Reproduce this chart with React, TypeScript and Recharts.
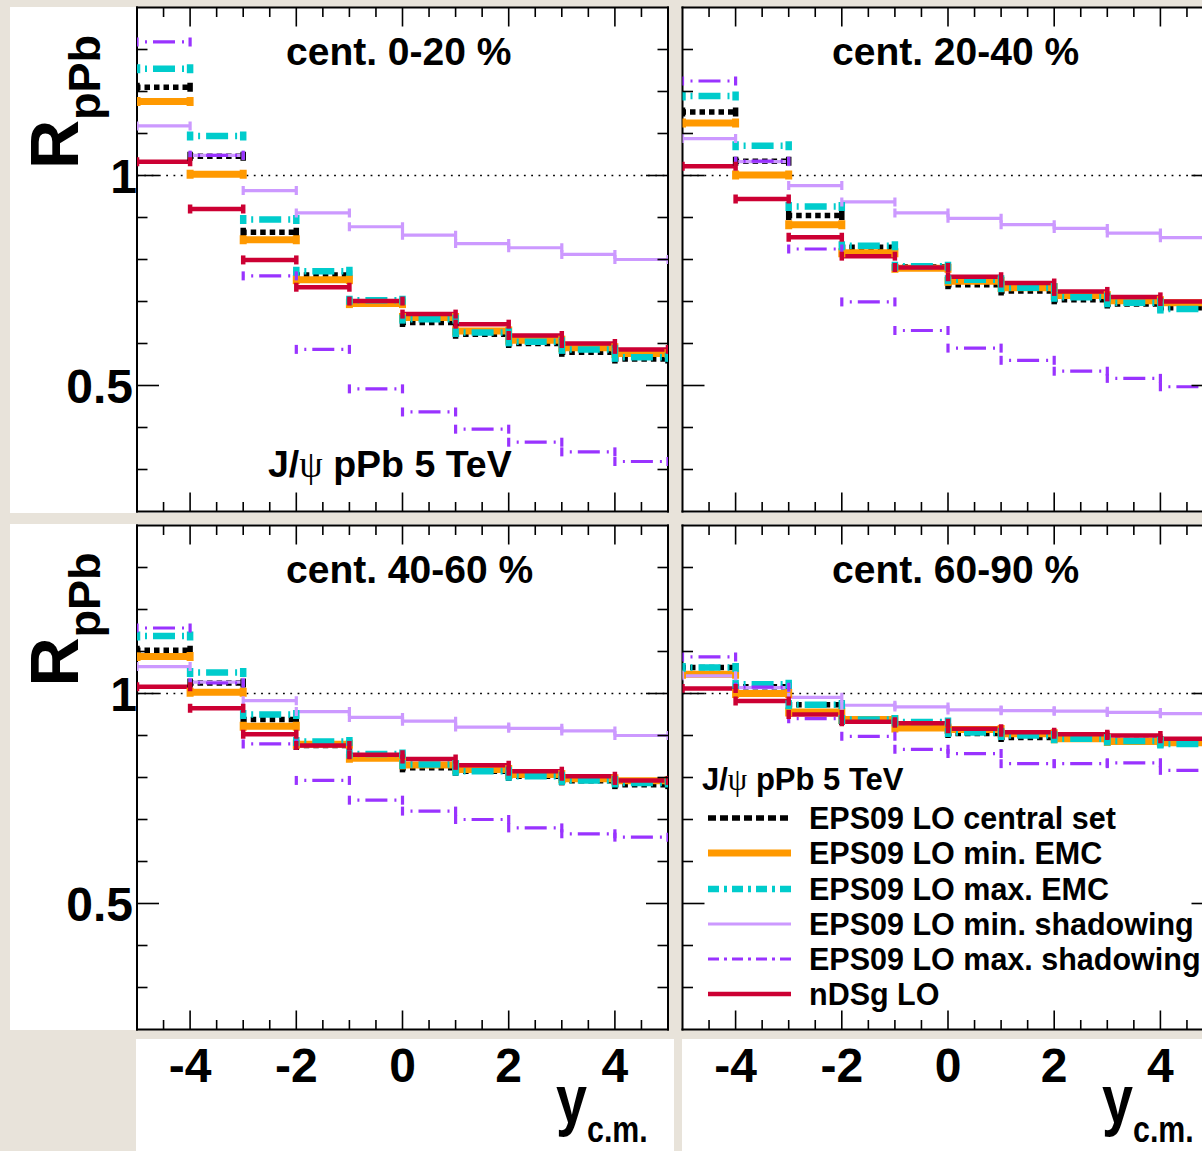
import React from 'react';
import { LineChart, Line, XAxis, YAxis, ReferenceLine } from 'recharts';

const FONT = '"Liberation Sans", Arial, Helvetica, sans-serif';
const SERIF = '"Liberation Serif", "DejaVu Serif", serif';

// Rapidity bins in y_c.m.
const binEdges = [-5, -4, -3, -2, -1, 0, 1, 2, 3, 4, 5];
const xTicks = [-4.5, -4, -3.5, -3, -2.5, -2, -1.5, -1, -0.5, 0, 0.5, 1, 1.5, 2, 2.5, 3, 3.5, 4, 4.5];
const xTickLabels = [-4, -2, 0, 2, 4];
const yTicks = [0.3, 0.4, 0.5, 0.6, 0.7, 0.8, 0.9, 1, 1.1, 1.2, 1.3];
const yTickLabels = [0.5, 1];

const centralityLabels = ['cent. 0-20 %', 'cent. 20-40 %', 'cent. 40-60 %', 'cent. 60-90 %'];
const modelNames = [
  'EPS09 LO central set',
  'EPS09 LO min. EMC',
  'EPS09 LO max. EMC',
  'EPS09 LO min. shadowing',
  'EPS09 LO max. shadowing',
  'nDSg LO',
];

// R_pPb per rapidity bin, centrality 0-20 %
const central0020 = [1.21, 1.046, 0.865, 0.763, 0.699, 0.65, 0.622, 0.6, 0.579, 0.563];
const minEmc0020 = [1.176, 1.003, 0.847, 0.752, 0.695, 0.662, 0.63, 0.608, 0.59, 0.576];
const maxEmc0020 = [1.254, 1.094, 0.895, 0.772, 0.703, 0.658, 0.626, 0.604, 0.586, 0.567];
const minShad0020 = [1.118, 1.048, 0.964, 0.911, 0.878, 0.858, 0.838, 0.828, 0.812, 0.8];
const maxShad0020 = [1.318, 1.048, 0.761, 0.586, 0.492, 0.437, 0.396, 0.365, 0.342, 0.319];
const ndsg0020 = [1.033, 0.92, 0.799, 0.734, 0.701, 0.67, 0.646, 0.619, 0.6, 0.586];

// centrality 20-40 %
const central2040 = [1.151, 1.034, 0.905, 0.829, 0.782, 0.74, 0.725, 0.704, 0.694, 0.685];
const minEmc2040 = [1.125, 1.001, 0.883, 0.816, 0.779, 0.748, 0.733, 0.714, 0.702, 0.697];
const maxEmc2040 = [1.189, 1.071, 0.926, 0.833, 0.784, 0.752, 0.733, 0.71, 0.697, 0.682];
const minShad2040 = [1.088, 1.033, 0.976, 0.937, 0.911, 0.898, 0.883, 0.874, 0.863, 0.852];
const maxShad2040 = [1.225, 1.034, 0.825, 0.699, 0.631, 0.589, 0.56, 0.534, 0.517, 0.497];
const ndsg2040 = [1.022, 0.944, 0.853, 0.808, 0.781, 0.759, 0.744, 0.724, 0.711, 0.7];

// centrality 40-60 %
const central4060 = [1.103, 1.025, 0.938, 0.876, 0.851, 0.823, 0.815, 0.803, 0.792, 0.783];
const minEmc4060 = [1.088, 1.003, 0.922, 0.879, 0.846, 0.83, 0.819, 0.807, 0.797, 0.792];
const maxEmc4060 = [1.137, 1.05, 0.95, 0.886, 0.856, 0.831, 0.815, 0.803, 0.793, 0.787];
const minShad4060 = [1.064, 1.027, 0.983, 0.957, 0.943, 0.934, 0.92, 0.917, 0.911, 0.9];
const maxShad4060 = [1.156, 1.025, 0.88, 0.793, 0.746, 0.72, 0.7, 0.68, 0.666, 0.658];
const ndsg4060 = [1.016, 0.965, 0.903, 0.876, 0.854, 0.844, 0.829, 0.815, 0.803, 0.793];

// centrality 60-90 %
const central6090 = [1.062, 1.016, 0.973, 0.936, 0.924, 0.905, 0.895, 0.894, 0.888, 0.882];
const minEmc6090 = [1.046, 1.0, 0.956, 0.938, 0.918, 0.914, 0.904, 0.892, 0.886, 0.883];
const maxEmc6090 = [1.062, 1.022, 0.973, 0.938, 0.932, 0.907, 0.9, 0.892, 0.887, 0.88];
const minShad6090 = [1.042, 1.014, 0.991, 0.972, 0.968, 0.961, 0.959, 0.958, 0.955, 0.952];
const maxShad6090 = [1.087, 1.015, 0.94, 0.898, 0.867, 0.857, 0.833, 0.833, 0.835, 0.817];
const ndsg6090 = [1.012, 0.982, 0.95, 0.933, 0.929, 0.916, 0.908, 0.903, 0.9, 0.892];

const panelSeries = [
  [central0020, minEmc0020, maxEmc0020, minShad0020, maxShad0020, ndsg0020],
  [central2040, minEmc2040, maxEmc2040, minShad2040, maxShad2040, ndsg2040],
  [central4060, minEmc4060, maxEmc4060, minShad4060, maxShad4060, ndsg4060],
  [central6090, minEmc6090, maxEmc6090, minShad6090, maxShad6090, ndsg6090],
];

// line styles, in legend order (drawn in this order, last on top)
const modelStyles = [
  { color: '#000000', width: 5.5, dash: '5.5 4', offset: 2, legendDash: '8 4' },
  { color: '#ff9900', width: 7, dash: undefined, offset: 0, legendDash: undefined },
  { color: '#00cccc', width: 6.5, dash: '22 7 2 6', offset: 21, legendDash: '11 5 3 5' },
  { color: '#cc99ff', width: 3.2, dash: undefined, offset: 0, legendDash: undefined },
  { color: '#9933ff', width: 3.2, dash: '22 7 2 6', offset: 21, legendDash: '11 5 3 5' },
  { color: '#cc0033', width: 4.5, dash: undefined, offset: 0, legendDash: undefined },
];

// panel geometry: chart box and margins (axes take 1px each)
const panelBoxes = [
  { left: 0, top: 0, width: 680, height: 515, margin: { left: 136, top: 6.5, right: 11, bottom: 2.5 }, yLabels: true, xLabels: false },
  { left: 670, top: 0, width: 560, height: 515, margin: { left: 11.5, top: 6.5, right: 15.5, bottom: 2.5 }, yLabels: false, xLabels: false },
  { left: 0, top: 517.5, width: 680, height: 633.5, margin: { left: 136, top: 6.5, right: 11, bottom: 121 }, yLabels: true, xLabels: true },
  { left: 670, top: 517.5, width: 560, height: 633.5, margin: { left: 11.5, top: 6.5, right: 15.5, bottom: 121 }, yLabels: false, xLabels: true },
];

type Pt = { x: number; y: number | null };

// one horizontal segment per bin, broken between bins
function binSegments(values: number[]): Pt[] {
  const pts: Pt[] = [];
  values.forEach((v, i) => {
    pts.push({ x: binEdges[i], y: v });
    pts.push({ x: binEdges[i + 1], y: v });
    pts.push({ x: binEdges[i + 1], y: null });
  });
  return pts;
}

const isMajorX = (v: number) => Number.isInteger(v) && v % 2 === 0;
const isMajorY = (v: number) => v === 0.5 || v === 1;

const TICK_W = 1.6;

function BottomTick(props: any) {
  const { x, y, payload, showLabel } = props;
  const v = payload.value;
  const major = isMajorX(v);
  return (
    <g>
      <line x1={x} x2={x} y1={y} y2={y - (major ? 19 : 9.5)} stroke="#000" strokeWidth={TICK_W} />
      {showLabel && major && xTickLabels.includes(v) ? (
        <text x={x} y={y + 52} textAnchor="middle" fontFamily={FONT} fontWeight="bold" fontSize={48} fill="#000">
          {String(v)}
        </text>
      ) : null}
    </g>
  );
}

function TopTick(props: any) {
  const { x, y, payload } = props;
  const major = isMajorX(payload.value);
  return <line x1={x} x2={x} y1={y} y2={y + (major ? 19 : 9.5)} stroke="#000" strokeWidth={TICK_W} />;
}

function LeftTick(props: any) {
  const { x, y, payload, showLabel } = props;
  const v = payload.value;
  const major = isMajorY(v);
  return (
    <g>
      <line x1={x} x2={x + (major ? 22 : 10.5)} y1={y} y2={y} stroke="#000" strokeWidth={TICK_W} />
      {showLabel && yTickLabels.includes(v) ? (
        <text x={x - (v === 1 ? 0 : 4)} y={y + 17} textAnchor="end" fontFamily={FONT} fontWeight="bold" fontSize={48} fill="#000">
          {String(v)}
        </text>
      ) : null}
    </g>
  );
}

function RightTick(props: any) {
  const { x, y, payload } = props;
  const major = isMajorY(payload.value);
  return <line x1={x} x2={x - (major ? 22 : 10.5)} y1={y} y2={y} stroke="#000" strokeWidth={TICK_W} />;
}

function makeCap(color: string, width: number) {
  return (p: any) => {
    const k = `cap-${p.index}`;
    if (p.cx == null || p.cy == null || p.payload == null || p.payload.y == null || Number.isNaN(p.cy)) {
      return <g key={k} />;
    }
    return <line key={k} x1={p.cx} x2={p.cx} y1={p.cy - 4.5} y2={p.cy + 4.5} stroke={color} strokeWidth={width} />;
  };
}

const frameLine = { stroke: '#000', strokeWidth: 2, strokeLinecap: 'square' as const };

function Panel({ index }: { index: number }) {
  const box = panelBoxes[index];
  const series = panelSeries[index];
  return (
    <div style={{ position: 'absolute', left: box.left, top: box.top, width: box.width, height: box.height }}>
      <LineChart width={box.width} height={box.height} margin={box.margin}>
        <XAxis
          xAxisId="b"
          orientation="bottom"
          type="number"
          dataKey="x"
          domain={[-5, 5]}
          allowDataOverflow
          ticks={xTicks}
          interval={0}
          height={1}
          tickSize={0}
          tickMargin={0}
          tickLine={false}
          axisLine={frameLine}
          tick={(p: any) => <BottomTick {...p} showLabel={box.xLabels} />}
        />
        <XAxis
          xAxisId="t"
          orientation="top"
          type="number"
          dataKey="x"
          domain={[-5, 5]}
          allowDataOverflow
          ticks={xTicks}
          interval={0}
          height={1}
          tickSize={0}
          tickMargin={0}
          tickLine={false}
          axisLine={frameLine}
          tick={(p: any) => <TopTick {...p} />}
        />
        <YAxis
          yAxisId="l"
          orientation="left"
          type="number"
          domain={[0.2, 1.4]}
          allowDataOverflow
          ticks={yTicks}
          interval={0}
          width={1}
          tickSize={0}
          tickMargin={0}
          tickLine={false}
          axisLine={frameLine}
          tick={(p: any) => <LeftTick {...p} showLabel={box.yLabels} />}
        />
        <YAxis
          yAxisId="r"
          orientation="right"
          type="number"
          domain={[0.2, 1.4]}
          allowDataOverflow
          ticks={yTicks}
          interval={0}
          width={1}
          tickSize={0}
          tickMargin={0}
          tickLine={false}
          axisLine={frameLine}
          tick={(p: any) => <RightTick {...p} />}
        />
        <ReferenceLine
          y={1}
          xAxisId="b"
          yAxisId="l"
          stroke="#000"
          strokeWidth={1.6}
          strokeDasharray="1.8 5.5"
        />
        {series.map((vals, si) => {
          const st = modelStyles[si];
          return (
            <Line
              key={modelNames[si]}
              name={modelNames[si]}
              data={binSegments(vals)}
              dataKey="y"
              xAxisId="b"
              yAxisId="l"
              type="linear"
              stroke={st.color}
              strokeWidth={st.width}
              strokeDasharray={st.dash}
              strokeDashoffset={st.offset}
              connectNulls={false}
              dot={makeCap(st.color, st.width)}
              activeDot={false}
              isAnimationActive={false}
            />
          );
        })}
      </LineChart>
    </div>
  );
}

const BEIGE = '#e8e3da';

const whiteBoxes = [
  { left: 10, top: 6.5, width: 659, height: 506 },
  { left: 681.5, top: 6.5, width: 520.5, height: 506 },
  { left: 10, top: 524, width: 659, height: 506 },
  { left: 681.5, top: 524, width: 520.5, height: 506 },
  { left: 136, top: 1039, width: 538, height: 112 },
  { left: 682, top: 1039, width: 520, height: 112 },
];

const titlePos = [
  { x: 286, y: 65 },
  { x: 832, y: 65 },
  { x: 286, y: 583 },
  { x: 832, y: 583 },
];

const legendRows = [818, 853, 889, 924, 959, 994];

function Overlay() {
  const bold = { fontFamily: FONT, fontWeight: 'bold' as const, fill: '#000' };
  return (
    <svg
      width={1202}
      height={1151}
      style={{ position: 'absolute', left: 0, top: 0, pointerEvents: 'none' }}
    >
      {centralityLabels.map((t, i) => (
        <text key={t} x={titlePos[i].x} y={titlePos[i].y} fontSize={39} {...bold}>
          {t}
        </text>
      ))}

      {/* y-axis titles */}
      {[169, 686.5].map((yy) => (
        <text key={yy} transform={`translate(78,${yy}) rotate(-90)`} {...bold}>
          <tspan fontSize={68}>R</tspan>
          <tspan fontSize={45} dy={22}>pPb</tspan>
        </text>
      ))}

      {/* x-axis titles (narrow lettering) */}
      {[556, 1102].map((xx) => (
        <text key={xx} transform={`translate(${xx},1123) scale(0.82,1)`} {...bold}>
          <tspan fontSize={68}>y</tspan>
          <tspan fontSize={37} dy={19}>c.m.</tspan>
        </text>
      ))}

      {/* system label, first panel */}
      <text x={268} y={477} fontSize={37.5} {...bold}>
        J/<tspan fontFamily={SERIF} fontWeight="normal">ψ</tspan> pPb 5 TeV
      </text>

      {/* legend in last panel */}
      <text x={702} y={790} fontSize={31} {...bold}>
        J/<tspan fontFamily={SERIF} fontWeight="normal">ψ</tspan> pPb 5 TeV
      </text>
      {modelNames.map((name, i) => {
        const st = modelStyles[i];
        const y = legendRows[i];
        return (
          <g key={name}>
            <line x1={708} x2={791} y1={y} y2={y} stroke={st.color} strokeWidth={st.width} strokeDasharray={st.legendDash} />
            <text x={809} y={y + 11} fontSize={30.5} {...bold}>
              {name}
            </text>
          </g>
        );
      })}
    </svg>
  );
}

export default function App() {
  return (
    <div
      style={{
        position: 'absolute',
        left: 0,
        top: 0,
        width: 1202,
        height: 1151,
        overflow: 'hidden',
        background: BEIGE,
      }}
    >
      {whiteBoxes.map((b, i) => (
        <div key={i} style={{ position: 'absolute', left: b.left, top: b.top, width: b.width, height: b.height, background: '#fff' }} />
      ))}
      {[0, 1, 2, 3].map((i) => (
        <Panel key={i} index={i} />
      ))}
      <Overlay />
    </div>
  );
}
